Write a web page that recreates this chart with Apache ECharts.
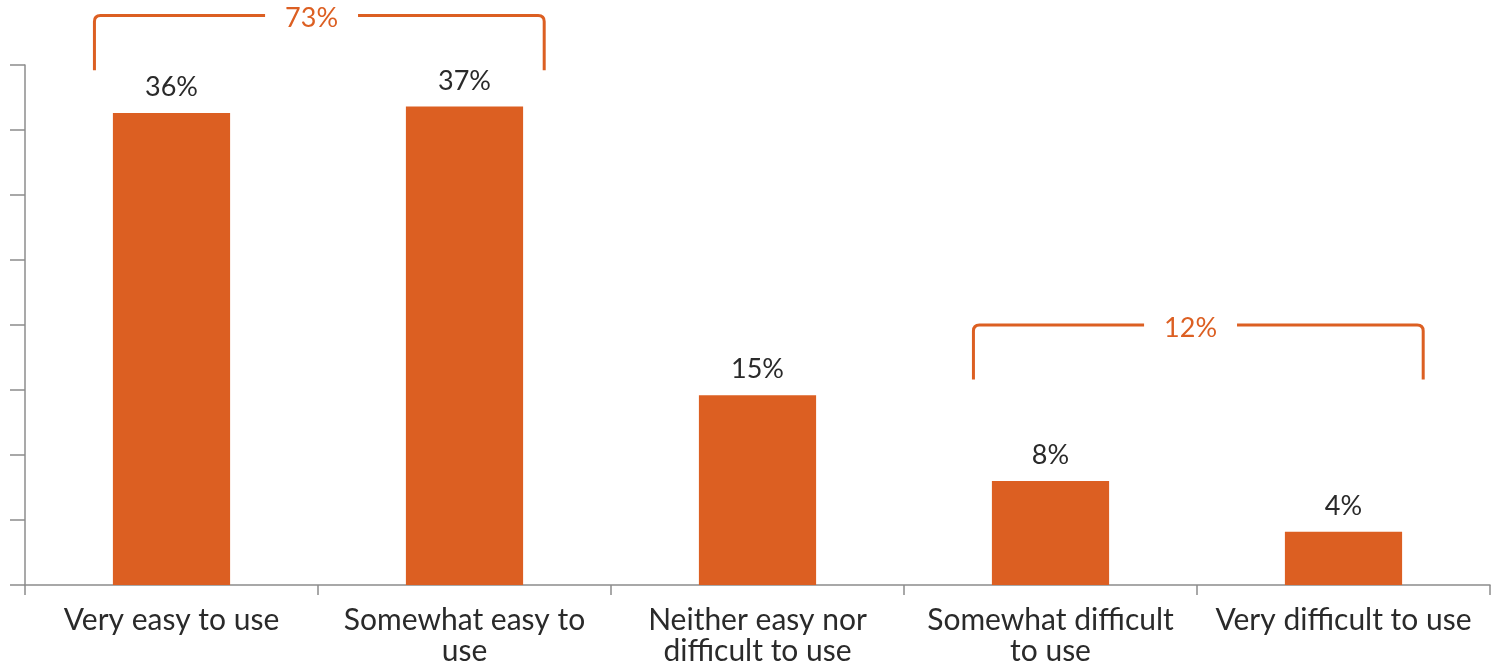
<!DOCTYPE html>
<html>
<head>
<meta charset="utf-8">
<script src="https://cdn.jsdelivr.net/npm/echarts@6/dist/echarts.min.js"></script>
<style>
html,body{margin:0;padding:0;background:#fff;}
#main{width:1493px;height:667px;}
</style>
</head>
<body>
<div id="main"></div>
<script>
const categories = [
  'Very easy to use',
  'Somewhat easy to\nuse',
  'Neither easy nor\ndifficult to use',
  'Somewhat difficult\nto use',
  'Very difficult to use'
];
const values = [36.3, 36.8, 14.6, 8.0, 4.1];
const valueLabels = ['36%', '37%', '15%', '8%', '4%'];

const bracketStart = [0, 3];
const bracketEnd = [1, 4];
const bracketTop = [43.8, 20.0];
const bracketBottom = [39.6, 15.8];
const bracketLabels = ['73%', '12%'];

const ORANGE = '#DC5F22';
const FONT = 'Lato, "Open Sans", sans-serif';

const bracketData = bracketStart.map((s, i) => [s, bracketEnd[i], bracketTop[i], bracketBottom[i]]);

const chart = echarts.init(document.getElementById('main'), null, {renderer: 'canvas'});
chart.setOption({
  animation: false,
  grid: {left: 25, right: 3, top: 65, bottom: 82, containLabel: false},
  xAxis: {
    type: 'category',
    data: categories,
    axisLine: {lineStyle: {color: '#8c8c8c', width: 1.5}},
    axisTick: {show: true, length: 10, lineStyle: {color: '#8c8c8c', width: 1.5}},
    axisLabel: {
      color: '#2a2a2a', fontSize: 30, fontWeight: 400, fontFamily: FONT, lineHeight: 31,
      margin: 20, interval: 0
    }
  },
  yAxis: {
    type: 'value',
    min: 0, max: 40, interval: 5,
    axisLine: {show: true, lineStyle: {color: '#8c8c8c', width: 1.5}},
    axisTick: {show: true, length: 15, lineStyle: {color: '#8c8c8c', width: 1.5}},
    axisLabel: {show: false},
    splitLine: {show: false}
  },
  series: [
    {
      type: 'bar',
      data: values,
      barWidth: '40%',
      itemStyle: {color: ORANGE},
      label: {
        show: true, position: 'top', distance: 12,
        color: '#2a2a2a', fontSize: 27, fontWeight: 400, fontFamily: FONT,
        formatter: p => valueLabels[p.dataIndex]
      }
    },
    {
      type: 'custom',
      clip: false,
      silent: true,
      data: bracketData,
      renderItem: function (params, api) {
        const s = api.coord([api.value(0), api.value(2)]);
        const e = api.coord([api.value(1), api.value(2)]);
        const b = api.coord([api.value(0), api.value(3)]);
        const band = api.size([1, 0])[0];
        const x1 = s[0] - 0.263 * band;
        const x2 = e[0] + 0.272 * band;
        const yt = s[1];
        const yb = b[1];
        const r = 6;
        const mid = (s[0] + e[0]) / 2 - 0.022 * band;
        const path = 'M' + x1 + ' ' + yb +
          ' L' + x1 + ' ' + (yt + r) +
          ' Q' + x1 + ' ' + yt + ' ' + (x1 + r) + ' ' + yt +
          ' L' + (x2 - r) + ' ' + yt +
          ' Q' + x2 + ' ' + yt + ' ' + x2 + ' ' + (yt + r) +
          ' L' + x2 + ' ' + yb;
        return {
          type: 'group',
          children: [
            {
              type: 'path',
              shape: {pathData: path},
              style: {stroke: ORANGE, fill: null, lineWidth: 3}
            },
            {
              type: 'text',
              z2: 10,
              style: {
                text: bracketLabels[params.dataIndex],
                x: mid, y: yt + 3,
                align: 'center', verticalAlign: 'middle',
                fill: ORANGE, fontSize: 27, fontWeight: 400, fontFamily: FONT,
                backgroundColor: '#fff', padding: [2, 20]
              }
            }
          ]
        };
      }
    }
  ]
});
</script>
</body>
</html>
